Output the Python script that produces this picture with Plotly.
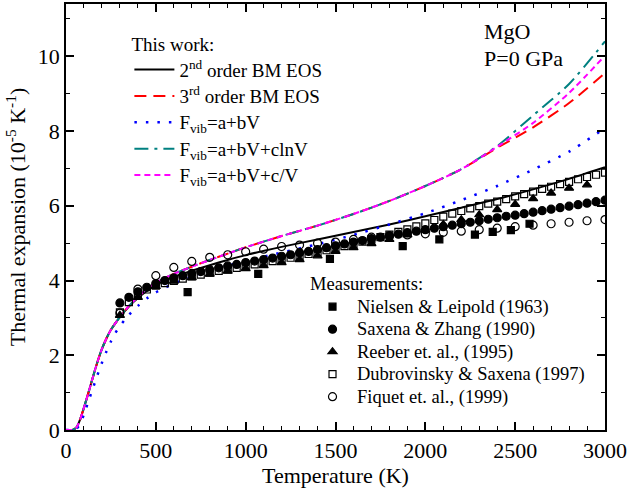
import plotly.graph_objects as go

# ---- calculated thermal expansion (10^-5 K^-1) vs temperature (K) ----
T_CALC = [0, 30, 40, 60, 80, 100, 125, 150, 175, 200, 225, 250, 275, 300, 350,
          400, 450, 500, 600, 700, 800, 900, 1000, 1200, 1400, 1600, 1800,
          2000, 2200, 2400, 2600, 2800, 3000]

ALPHA_BM2 = [0, 0, 0.01, 0.08, 0.3, 0.6, 1.0, 1.42, 1.82, 2.17, 2.45, 2.68,
             2.86, 3.02, 3.3, 3.53, 3.72, 3.88, 4.1, 4.26, 4.41, 4.55, 4.68,
             4.9, 5.1, 5.3, 5.5, 5.72, 5.95, 6.18, 6.44, 6.72, 7.03]
ALPHA_BM3 = [0, 0, 0.01, 0.08, 0.3, 0.6, 1.0, 1.42, 1.82, 2.17, 2.45, 2.68,
             2.86, 3.02, 3.32, 3.56, 3.77, 3.94, 4.18, 4.37, 4.55, 4.72, 4.89,
             5.19, 5.47, 5.78, 6.13, 6.53, 6.98, 7.55, 8.1, 8.75, 9.55]
ALPHA_LIN = [0, 0, 0.0, 0.04, 0.18, 0.42, 0.77, 1.12, 1.47, 1.8, 2.1, 2.37,
             2.6, 2.78, 3.08, 3.32, 3.52, 3.68, 3.92, 4.1, 4.26, 4.4, 4.52,
             4.75, 4.97, 5.22, 5.5, 5.8, 6.15, 6.53, 6.97, 7.45, 8.08]
ALPHA_LN = [0, 0, 0.01, 0.08, 0.3, 0.6, 1.0, 1.42, 1.82, 2.17, 2.45, 2.68,
            2.86, 3.02, 3.32, 3.56, 3.77, 3.94, 4.18, 4.37, 4.55, 4.72, 4.89,
            5.19, 5.47, 5.78, 6.13, 6.53, 6.98, 7.6, 8.42, 9.26, 10.4]
ALPHA_INV = [0, 0, 0.01, 0.08, 0.3, 0.6, 1.0, 1.42, 1.82, 2.17, 2.45, 2.68,
             2.86, 3.02, 3.32, 3.56, 3.77, 3.94, 4.18, 4.37, 4.55, 4.72, 4.89,
             5.19, 5.47, 5.78, 6.13, 6.53, 6.98, 7.58, 8.22, 9.02, 10.02]

# ---- measurements ----
T_NIELSEN = [677, 1070, 1469, 1874, 2078, 2276, 2375, 2476, 2580]
A_NIELSEN = [3.69, 4.18, 4.58, 4.92, 5.10, 5.23, 5.30, 5.35, 5.52]

T_SAXENA = [300, 350, 400, 450, 500, 550, 600, 650, 700, 750, 800, 850, 900,
            950, 1000, 1050, 1100, 1150, 1200, 1250, 1300, 1350, 1400, 1450,
            1500, 1550, 1600, 1650, 1700, 1750, 1800, 1850, 1900, 1950, 2000,
            2050, 2100, 2150, 2200, 2250, 2300, 2350, 2400, 2450, 2500, 2550,
            2600, 2650, 2700, 2750, 2800, 2850, 2900, 2950, 3000]
A_SAXENA = [3.40, 3.55, 3.70, 3.82, 3.92, 4.00, 4.07, 4.13, 4.19, 4.24, 4.29,
            4.34, 4.39, 4.43, 4.48, 4.52, 4.56, 4.60, 4.65, 4.69, 4.74, 4.78,
            4.83, 4.88, 4.93, 4.98, 5.03, 5.07, 5.12, 5.16, 5.20, 5.24, 5.28,
            5.32, 5.36, 5.40, 5.44, 5.48, 5.52, 5.56, 5.60, 5.64, 5.68, 5.72,
            5.75, 5.79, 5.83, 5.87, 5.91, 5.95, 5.99, 6.03, 6.07, 6.11, 6.15]

T_REEBER = [300, 400, 500, 600, 700, 800, 900, 1000, 1100, 1200, 1300, 1400,
            1500, 1600, 1700, 1800, 1900, 2000, 2100, 2200, 2300, 2400, 2500,
            2600, 2700, 2800, 2900]
A_REEBER = [3.07, 3.55, 3.84, 3.98, 4.08, 4.17, 4.25, 4.32, 4.40, 4.48, 4.56,
            4.66, 4.78, 4.88, 4.99, 5.10, 5.22, 5.35, 5.50, 5.63, 5.76, 5.90,
            6.04, 6.19, 6.34, 6.47, 6.56]

T_DUBROV = T_SAXENA
A_DUBROV = [3.15, 3.42, 3.62, 3.76, 3.86, 3.93, 3.99, 4.05, 4.11, 4.16, 4.21,
            4.26, 4.30, 4.34, 4.38, 4.43, 4.47, 4.52, 4.56, 4.61, 4.66, 4.71,
            4.76, 4.81, 4.87, 4.92, 4.98, 5.04, 5.10, 5.16, 5.23, 5.30, 5.37,
            5.45, 5.53, 5.62, 5.71, 5.79, 5.86, 5.93, 5.99, 6.06, 6.11, 6.18,
            6.25, 6.31, 6.38, 6.45, 6.51, 6.58, 6.64, 6.71, 6.77, 6.83, 6.89]

T_FIQUET = [300, 400, 500, 600, 700, 800, 900, 1000, 1100, 1200, 1300, 1400,
            1500, 1600, 1700, 1800, 1900, 2000, 2100, 2200, 2300, 2400, 2500,
            2600, 2700, 2800, 2900, 3000]
A_FIQUET = [3.13, 3.77, 4.13, 4.35, 4.51, 4.62, 4.69, 4.77, 4.84, 4.91, 4.95,
            5.00, 5.03, 5.10, 5.16, 5.19, 5.22, 5.25, 5.29, 5.32, 5.36, 5.40,
            5.44, 5.48, 5.52, 5.56, 5.60, 5.63]

FONT = "Liberation Serif"


def sized(text, px):
    """Wrap legend text so it renders at px while the row pitch follows the legend font."""
    return f'<span style="font-size:{px}px">{text}</span>'


fig = go.Figure()

curves = [
    ("2<sup>nd</sup> order BM EOS", ALPHA_BM2, "#000000", "solid", 2.0),
    ("3<sup>rd</sup> order BM EOS", ALPHA_BM3, "#ff0000", "12px,7px", 2.0),
    ("F<sub>vib</sub>=a+bV", ALPHA_LIN, "#0000ff", "2.5px,9px", 2.5),
    ("F<sub>vib</sub>=a+bV+clnV", ALPHA_LN, "#008080", "14px,6px,3px,6px", 2.0),
    ("F<sub>vib</sub>=a+bV+c/V", ALPHA_INV, "#ff00ff", "6px,4px", 2.0),
]
for name, vals, color, dash, width in curves:
    fig.add_trace(go.Scatter(
        x=T_CALC, y=vals, mode="lines", name=sized(name, 19), legend="legend",
        line=dict(color=color, dash=dash, width=width, shape="spline",
                  smoothing=0.7),
    ))

measurements = [
    ("Nielsen &amp; Leipold (1963)", T_NIELSEN, A_NIELSEN, "square", 7),
    ("Saxena &amp; Zhang (1990)", T_SAXENA, A_SAXENA, "circle", 8),
    ("Reeber et. al., (1995)", T_REEBER, A_REEBER, "triangle-up", 8),
    ("Dubrovinsky &amp; Saxena (1997)", T_DUBROV, A_DUBROV, "square-open", 7),
    ("Fiquet et. al., (1999)", T_FIQUET, A_FIQUET, "circle-open", 8),
]
for name, tt, aa, sym, size in measurements:
    fig.add_trace(go.Scatter(
        x=tt, y=aa, mode="markers", name=sized(name, 18.5), legend="legend2",
        marker=dict(symbol=sym, size=size, color="black",
                    line=dict(color="black", width=1.2)),
    ))

axis_common = dict(
    showline=True, linewidth=1.5, linecolor="black", mirror="ticks",
    ticks="inside", ticklen=8, tickwidth=1.5, tickcolor="black",
    showgrid=False, zeroline=False,
    tickfont=dict(family=FONT, size=22, color="black"),
)

fig.update_layout(
    template="none",
    width=629, height=492,
    margin=dict(l=66, r=24, t=4, b=62),
    paper_bgcolor="white", plot_bgcolor="white",
    font=dict(family=FONT, size=19, color="black"),
    xaxis=dict(
        range=[0, 3000], tick0=0, dtick=500,
        minor=dict(dtick=100, ticklen=4, tickwidth=1.2, tickcolor="black",
                   ticks="inside"),
        title=dict(text="Temperature (K)", font=dict(family=FONT, size=22),
                   standoff=4),
        **axis_common,
    ),
    yaxis=dict(
        range=[0, 11.4], tick0=0, dtick=2,
        minor=dict(dtick=1, ticklen=4, tickwidth=1.2, tickcolor="black",
                   ticks="inside"),
        title=dict(text="Thermal expansion (10<sup>-5</sup> K<sup>-1</sup>)",
                   font=dict(family=FONT, size=22), standoff=6),
        **axis_common,
    ),
    legend=dict(
        x=0.1176, y=0.947, xanchor="left", yanchor="top",
        bgcolor="rgba(0,0,0,0)", borderwidth=0,
        itemwidth=40, tracegroupgap=0,
        title=dict(text="This work:", font=dict(family=FONT, size=19)),
        font=dict(family=FONT, size=18),
    ),
    legend2=dict(
        x=0.449, y=0.384, xanchor="left", yanchor="top",
        bgcolor="rgba(0,0,0,0)", borderwidth=0,
        itemwidth=39, tracegroupgap=0,
        title=dict(text="Measurements:", font=dict(family=FONT, size=18.5)),
        font=dict(family=FONT, size=15),
    ),
    annotations=[
        dict(text="MgO", x=0.772, y=0.935, xref="paper", yref="paper",
             xanchor="left", yanchor="middle", showarrow=False,
             font=dict(family=FONT, size=22)),
        dict(text="P=0 GPa", x=0.772, y=0.872, xref="paper", yref="paper",
             xanchor="left", yanchor="middle", showarrow=False,
             font=dict(family=FONT, size=22)),
    ],
)

fig.write_html("out.html")
